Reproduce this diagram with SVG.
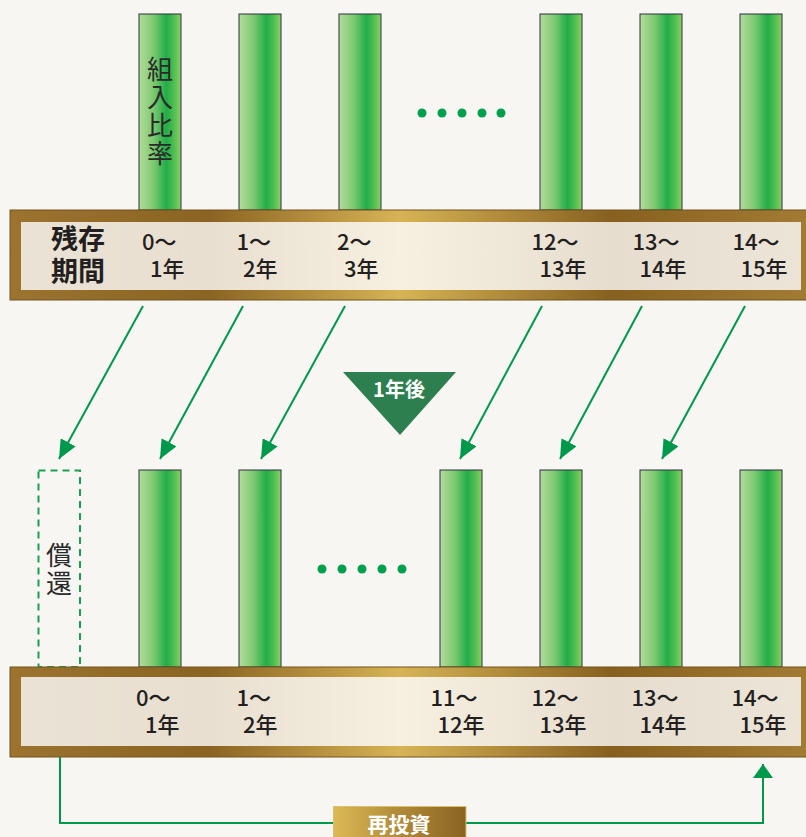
<svg xmlns="http://www.w3.org/2000/svg" width="806" height="837" viewBox="0 0 806 837">
<defs>
<linearGradient id="bar" x1="0" y1="0" x2="1" y2="0">
<stop offset="0" stop-color="#b4dc9c"/>
<stop offset="0.35" stop-color="#7cc970"/>
<stop offset="0.65" stop-color="#22ad48"/>
<stop offset="0.82" stop-color="#4cbd50"/>
<stop offset="1" stop-color="#8ccf64"/>
</linearGradient>
<linearGradient id="gold" gradientUnits="userSpaceOnUse" x1="10" y1="0" x2="806" y2="0">
<stop offset="0" stop-color="#9c7430"/>
<stop offset="0.25" stop-color="#8b6322"/>
<stop offset="0.49" stop-color="#d6b455"/>
<stop offset="0.755" stop-color="#87601f"/>
<stop offset="1" stop-color="#a27b33"/>
</linearGradient>
<linearGradient id="cream" gradientUnits="userSpaceOnUse" x1="21" y1="0" x2="801" y2="0">
<stop offset="0" stop-color="#eae2d4"/>
<stop offset="0.24" stop-color="#e8dfd1"/>
<stop offset="0.49" stop-color="#f7f0e0"/>
<stop offset="0.757" stop-color="#e6ddcf"/>
<stop offset="1" stop-color="#ece5d7"/>
</linearGradient>
<linearGradient id="boxgold" x1="0" y1="0" x2="1" y2="0">
<stop offset="0" stop-color="#dcb955"/>
<stop offset="0.5" stop-color="#b08a38"/>
<stop offset="1" stop-color="#8a6322"/>
</linearGradient>
<marker id="arr" viewBox="0 0 19 17" refX="19" refY="8.5" markerWidth="19" markerHeight="17" markerUnits="userSpaceOnUse" orient="auto">
<path d="M0,0 L19,8.5 L0,17 z" fill="#00994c"/>
</marker>
<marker id="arrUp" viewBox="0 0 14 20" refX="14" refY="10" markerWidth="14" markerHeight="20" markerUnits="userSpaceOnUse" orient="auto">
<path d="M0,0 L14,10 L0,20 z" fill="#00994c"/>
</marker>
</defs>
<style>
.bar{fill:url(#bar);stroke:#2b3142;stroke-width:1}
.band{fill:url(#gold);stroke:#735421;stroke-width:1}
.inner{fill:url(#cream)}
.lbl{font-family:"Noto Sans CJK JP","Noto Sans",sans-serif;font-size:22px;font-weight:500;fill:#231f20}
.hd{font-family:"Noto Sans CJK JP",sans-serif;font-size:27px;font-weight:bold;fill:#231f20}
.vt{font-family:"Noto Sans CJK JP",sans-serif;font-size:26px;fill:#2a2a2a;writing-mode:vertical-rl;letter-spacing:2px}
.dot{fill:#00a04c}
.conn{stroke:#00994c;stroke-width:2;fill:none}
.wt{font-family:"Noto Sans CJK JP",sans-serif;fill:#ffffff;text-anchor:middle;font-weight:bold}
</style>
<rect width="806" height="837" fill="#f7f6f3"/>

<g id="top-bars">
<rect class="bar" x="139" y="14" width="42" height="196"/>
<rect class="bar" x="239" y="14" width="42" height="196"/>
<rect class="bar" x="339" y="14" width="42" height="196"/>
<rect class="bar" x="540" y="14" width="42" height="196"/>
<rect class="bar" x="640" y="14" width="42" height="196"/>
<rect class="bar" x="740" y="14" width="42" height="196"/>
<text class="vt" x="160" y="56">組入比率</text>
</g>
<g id="top-dots">
<circle class="dot" cx="422" cy="113" r="4.5"/>
<circle class="dot" cx="442" cy="113" r="4.5"/>
<circle class="dot" cx="462" cy="113" r="4.5"/>
<circle class="dot" cx="482" cy="113" r="4.5"/>
<circle class="dot" cx="501" cy="113" r="4.5"/>
</g>

<g id="top-band">
<rect class="band" x="10" y="210" width="800" height="90"/>
<rect class="inner" x="21" y="222" width="780" height="68"/>
<text class="hd"><tspan x="51" y="249">残存</tspan><tspan x="51" y="281">期間</tspan></text>
<text class="lbl"><tspan x="142" y="250">0～</tspan><tspan x="150" y="277">1年</tspan></text>
<text class="lbl"><tspan x="236.5" y="250">1～</tspan><tspan x="243" y="277">2年</tspan></text>
<text class="lbl"><tspan x="337" y="250">2～</tspan><tspan x="344" y="277">3年</tspan></text>
<text class="lbl"><tspan x="531.5" y="250">12～</tspan><tspan x="539.5" y="277">13年</tspan></text>
<text class="lbl"><tspan x="632.5" y="250">13～</tspan><tspan x="639.5" y="277">14年</tspan></text>
<text class="lbl"><tspan x="732.5" y="250">14～</tspan><tspan x="740.5" y="277">15年</tspan></text>
</g>

<g id="one-year-later">
<polygon points="343,372 456,372 400,435" fill="#2e7f50"/>
<text class="wt" x="399" y="397" font-size="20">1年後</text>
</g>

<g id="redemption">
<rect x="38.5" y="470.5" width="41.5" height="196.5" fill="none" stroke="#1aa050" stroke-width="2" stroke-dasharray="7 5"/>
<text class="vt" x="59" y="542">償還</text>
</g>

<g id="bottom-bars">
<rect class="bar" x="139" y="470" width="42" height="197"/>
<rect class="bar" x="239" y="470" width="42" height="197"/>
<rect class="bar" x="440" y="470" width="42" height="197"/>
<rect class="bar" x="540" y="470" width="42" height="197"/>
<rect class="bar" x="640" y="470" width="42" height="197"/>
<rect class="bar" x="740" y="470" width="42" height="197"/>
</g>
<g id="bottom-dots">
<circle class="dot" cx="322" cy="569" r="4.5"/>
<circle class="dot" cx="342" cy="569" r="4.5"/>
<circle class="dot" cx="362" cy="569" r="4.5"/>
<circle class="dot" cx="382" cy="569" r="4.5"/>
<circle class="dot" cx="402" cy="569" r="4.5"/>
</g>

<g id="bottom-band">
<rect class="band" x="10" y="667" width="800" height="90"/>
<rect class="inner" x="21" y="677" width="780" height="69"/>
<text class="lbl"><tspan x="136" y="706">0～</tspan><tspan x="145" y="733">1年</tspan></text>
<text class="lbl"><tspan x="236.5" y="706">1～</tspan><tspan x="243" y="733">2年</tspan></text>
<text class="lbl"><tspan x="430.5" y="706">11～</tspan><tspan x="437.5" y="733">12年</tspan></text>
<text class="lbl"><tspan x="531.5" y="706">12～</tspan><tspan x="539.5" y="733">13年</tspan></text>
<text class="lbl"><tspan x="631.5" y="706">13～</tspan><tspan x="639.5" y="733">14年</tspan></text>
<text class="lbl"><tspan x="731.5" y="706">14～</tspan><tspan x="739.5" y="733">15年</tspan></text>
</g>

<g id="connectors">
<line class="conn" x1="143" y1="306" x2="59" y2="459" marker-end="url(#arr)"/>
<line class="conn" x1="243" y1="306" x2="160" y2="459" marker-end="url(#arr)"/>
<line class="conn" x1="345" y1="306" x2="261" y2="459" marker-end="url(#arr)"/>
<line class="conn" x1="542" y1="306" x2="460" y2="459" marker-end="url(#arr)"/>
<line class="conn" x1="642" y1="306" x2="560" y2="459" marker-end="url(#arr)"/>
<line class="conn" x1="745" y1="306" x2="662" y2="459" marker-end="url(#arr)"/>
<polyline class="conn" points="60,757 60,823 763,823 763,764" marker-end="url(#arrUp)"/>
</g>

<g id="reinvest">
<rect x="333.5" y="806.5" width="132.5" height="40" fill="url(#boxgold)" stroke="#d9bf6e" stroke-width="1"/>
<text class="wt" x="399" y="832" font-size="21">再投資</text>
</g>
</svg>
